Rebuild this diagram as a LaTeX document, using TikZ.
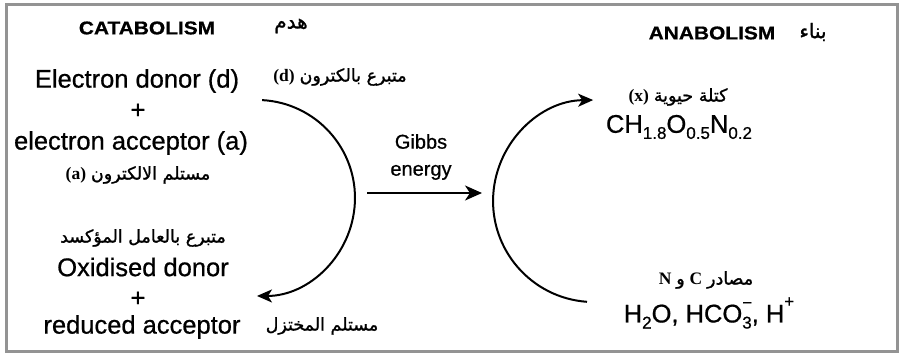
\documentclass[tikz,border=0pt]{standalone}
\usepackage{fontspec}
\setmainfont{Liberation Sans}[FakeBold=0.7]
\newfontfamily\arabicfont[Script=Arabic, FakeBold=1.2]{DejaVu Sans}
\newfontfamily\lserif{Liberation Serif}
\usetikzlibrary{arrows.meta}
\TeXXeTstate=1
\newcommand\arb[1]{{\arabicfont\beginR #1\endR}}
\newcommand\lb[1]{{\lserif\bfseries #1}}
\newcommand\wider[1]{\scalebox{1.13}[1]{#1}}
\newcommand\sbs[1]{\raisebox{-0.24em}{\fontsize{17}{18}\selectfont #1}}
\begin{document}
\begin{tikzpicture}[x=1pt,y=-1pt,
  every node/.style={inner sep=0pt, outer sep=0pt, anchor=center},
  title/.style={font=\fontsize{18.5}{20}\selectfont\bfseries},
  eng/.style={font=\fontsize{25.5}{28}\selectfont},
  arab/.style={font=\fontsize{17.5}{19}\selectfont},
  gib/.style={font=\fontsize{20}{27}\selectfont, align=center},
  flow/.style={line width=2pt, -{Stealth[length=15pt,width=13pt,inset=4pt]}},
  frame/.style={draw=gray!85, line width=3pt}]
\useasboundingbox (0,0) rectangle (899,354);
\fill[white] (0,0) rectangle (899,354);
\draw[frame] (6,4.5) rectangle (897.5,351);

% catabolism side
\node[title] (cat) at (147,28) {\wider{CATABOLISM}};
\node[arab, font=\fontsize{20}{22}\selectfont] (hadm) at (291,26) {\arb{هدم}};
\node[eng] (don) at (137,81) {Electron donor (d)};
\node[arab] (donar) at (340,77) {\lb{(d)} \arb{متبرع بالكترون}};
\node[eng] (plus1) at (138,111) {+};
\node[eng] (acc) at (131,143) {electron acceptor (a)};
\node[arab] (accar) at (138,175) {\lb{(a)} \arb{مستلم الالكترون}};
\node[arab] (oxar) at (143,238) {\arb{متبرع بالعامل المؤكسد}};
\node[eng] (ox) at (143,267) {Oxidised donor};
\node[eng] (plus2) at (138,299) {+};
\node[eng] (red) at (142,327) {reduced acceptor};
\node[arab] (redar) at (322,326) {\arb{مستلم المختزل}};

% Gibbs energy
\node[gib] (gibbs) at (421,157) {Gibbs\\energy};
\coordinate (ga) at (367,193);
\coordinate (gb) at (482,193);
\draw[line width=2.3pt, -{Stealth[length=17pt,width=15pt,inset=5pt]}] (ga) -- (gb);

% anabolism side
\node[title] (ana) at (712,33) {\wider{ANABOLISM}};
\node[arab, font=\fontsize{20}{22}\selectfont] (bena) at (813,32) {\arb{بناء}};
\node[arab] (bioar) at (678,97) {\lb{(x)} \arb{كتلة حيوية}};
\node[eng] (bio) at (679,127) {CH\sbs{1.8}O\sbs{0.5}N\sbs{0.2}};
\node[arab] (srcar) at (706,280) {\lb{N} \arb{و} \lb{C} \arb{مصادر}};
\node[eng] (src) at (709,313) {H\sbs{2}O, HCO\rlap{\raisebox{0.55em}{\fontsize{17}{18}\selectfont −}}\sbs{3}, H\raisebox{0.6em}{\fontsize{17}{18}\selectfont +}};

% arcs
\coordinate (la) at (262.1,100.1);
\draw[flow] (la) arc[start angle=-87, end angle=90, radius=98];
\coordinate (ra) at (587,301.8);
\draw[flow] (ra) arc[start angle=94, end angle=269.5, radius=101];
\end{tikzpicture}
\end{document}
